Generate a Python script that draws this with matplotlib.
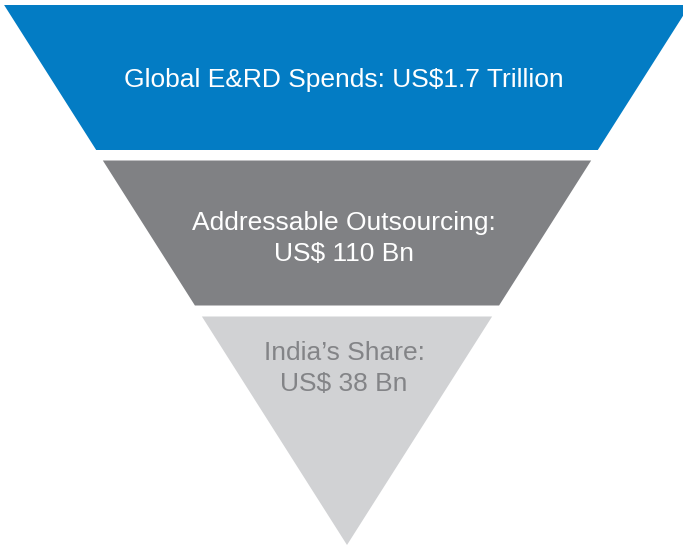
import matplotlib
matplotlib.use("Agg")
import matplotlib.pyplot as plt
from matplotlib.patches import Polygon

# ---- data ----
stages = ["Global E&RD Spends", "Addressable Outsourcing", "India\u2019s Share"]
values = ["US$1.7 Trillion", "US$ 110 Bn", "US$ 38 Bn"]
labels = ["Global E&RD Spends: US$1.7 Trillion",
          "Addressable Outsourcing:\nUS$ 110 Bn",
          "India\u2019s Share:\nUS$ 38 Bn"]

# ---- styling / layout ----
fill_colors = ["#037cc4", "#808184", "#d1d2d4"]
text_colors = ["white", "white", "#838487"]
W, H = 683, 546
apex_x, apex_y = 347, 545          # bottom tip of funnel
slope = 0.635                      # half-width per pixel of height
bands = [(5, 150), (160.5, 305.5), (316.5, 545)]
text_y = [80.5, 238.5, 368.5]

fig = plt.figure(figsize=(W / 100, H / 100), dpi=100)
ax = fig.add_axes([0, 0, 1, 1])
ax.set_xlim(0, W)
ax.set_ylim(H, 0)
ax.axis("off")

def half_width(y):
    return (apex_y - y) * slope

for (y0, y1), fc, lab, tc, ty in zip(bands, fill_colors, labels, text_colors, text_y):
    hw0, hw1 = half_width(y0), half_width(y1)
    pts = [(apex_x - hw0, y0), (apex_x + hw0, y0), (apex_x + hw1, y1), (apex_x - hw1, y1)]
    ax.add_patch(Polygon(pts, closed=True, facecolor=fc, edgecolor="none"))
    ax.text(344, ty, lab, ha="center", va="center", color=tc,
            fontsize=19, family=["Liberation Sans", "DejaVu Sans"], linespacing=1.32)

fig.savefig("out.png", dpi=100)
